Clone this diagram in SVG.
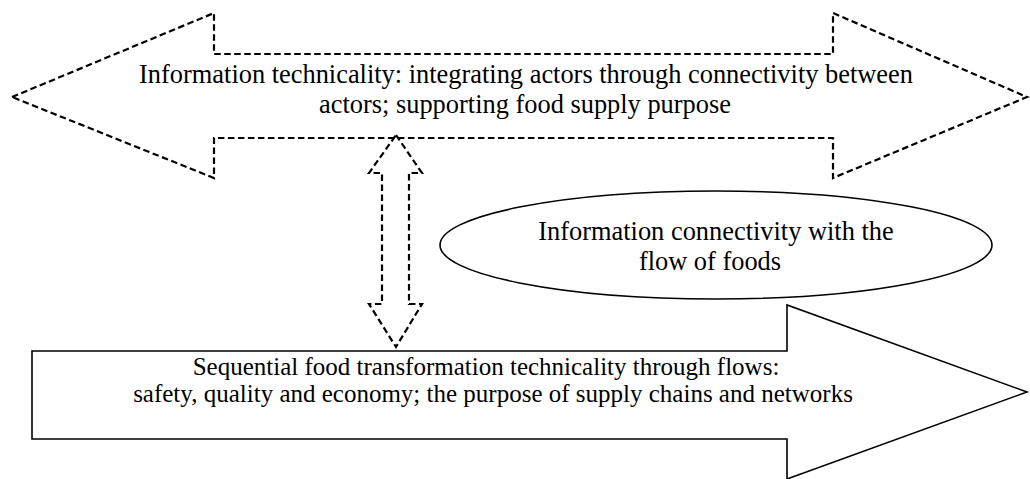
<svg xmlns="http://www.w3.org/2000/svg" width="1030" height="479" viewBox="0 0 1030 479">
<style>
.dash{fill:none;stroke:#000;stroke-width:2.2;stroke-dasharray:6.5 3.5}
.solid{fill:#fff;stroke:#000;stroke-width:1.6}
.t{font-family:'Liberation Serif','Times New Roman',serif;font-size:26.4px;fill:#000;text-anchor:middle}
.b{font-size:25px}
</style>
<rect width="1030" height="479" fill="#fff"/>
<g id="info-technicality">
<path class="dash" d="M12,97 L214,13 L214,54 L833,54 L833,13 L1027,97 L833,178 L833,138 L214,138 L214,178 Z"/>
<text class="t" x="526" y="83">Information technicality: integrating actors through connectivity between</text>
<text class="t" x="525" y="113">actors; supporting food supply purpose</text>
</g>
<g id="connectors">
<path class="dash" d="M396,135 L422,173 L409,173 L409,304 L422,304 L396,347 L369,304 L382,304 L382,173 L369,173 Z"/>
</g>
<g id="info-connectivity">
<ellipse class="solid" cx="716" cy="245" rx="276" ry="54"/>
<text class="t" x="716" y="240">Information connectivity with the</text>
<text class="t" x="710" y="270">flow of foods</text>
</g>
<g id="food-transformation">
<path class="solid" d="M32,351 L787,351 L787,305 L1027,392 L787,479 L787,439 L32,439 Z"/>
<text class="t b" x="486" y="375">Sequential food transformation technicality through flows:</text>
<text class="t b" x="493" y="402">safety, quality and economy; the purpose of supply chains and networks</text>
</g>
</svg>
